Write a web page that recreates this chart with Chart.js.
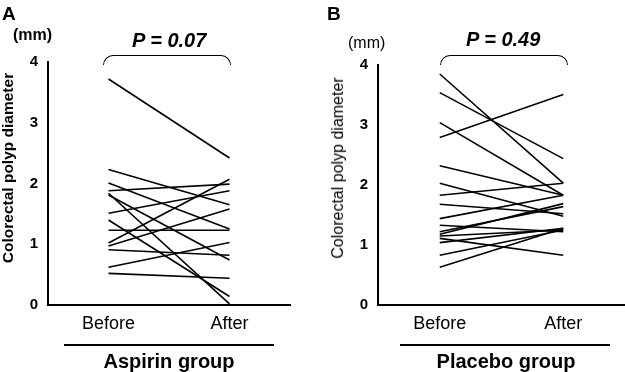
<!DOCTYPE html>
<html>
<head>
<meta charset="utf-8">
<script src="https://cdn.jsdelivr.net/npm/chart.js@4.4.1/dist/chart.umd.min.js"></script>
<style>
  body { margin: 0; background: #fff; font-family: "Liberation Sans", Arial, sans-serif; }
  #wrap { position: relative; width: 625px; height: 372px; overflow: hidden; }
  .box { position: absolute; top: 0; }
  .txt { position: absolute; color: #000; white-space: nowrap; line-height: 1; }
  .rule { position: absolute; height: 0; border-top: 2px solid #000; }
  .brace { position: absolute; height: 9px; border: 1.5px solid #000; border-bottom: none; border-radius: 10px 10px 0 0; }
  .ytitle { position: absolute; transform: translate(-50%, -50%) rotate(-90deg); white-space: nowrap; line-height: 1; }
</style>
</head>
<body>
<div id="wrap">
  <div class="box" style="left:0;width:312px;height:372px"><canvas id="chartA" width="312" height="372"></canvas></div>
  <div class="box" style="left:325px;width:300px;height:372px"><canvas id="chartB" width="300" height="372"></canvas></div>

  <div class="txt" style="left:2px;top:4px;font-size:19px;font-weight:bold">A</div>
  <div class="txt" style="left:13px;top:27px;font-size:16px;font-weight:bold">(mm)</div>
  <div class="ytitle" style="left:8px;top:168px;font-size:15.5px;font-weight:bold">Colorectal polyp diameter</div>
  <div class="txt" style="left:132px;top:30px;font-size:20px;font-weight:bold;font-style:italic">P = 0.07</div>
  <div class="brace" style="left:103px;top:55px;width:126px"></div>
  <div class="rule" style="left:64px;top:344px;width:210px"></div>
  <div class="txt" style="left:0;width:338px;top:351px;text-align:center;font-size:20px;font-weight:bold">Aspirin group</div>

  <div class="txt" style="left:327px;top:4px;font-size:19px;font-weight:bold">B</div>
  <div class="txt" style="left:348px;top:35px;font-size:16px">(mm)</div>
  <div class="ytitle" style="left:338px;top:168px;font-size:16px">Colorectal polyp diameter</div>
  <div class="txt" style="left:466px;top:29px;font-size:20px;font-weight:bold;font-style:italic">P = 0.49</div>
  <div class="brace" style="left:440px;top:55px;width:126px"></div>
  <div class="rule" style="left:400px;top:344px;width:210px"></div>
  <div class="txt" style="left:336px;width:340px;top:351px;text-align:center;font-size:20px;font-weight:bold">Placebo group</div>
</div>
<script>
const categories = ['Before', 'After'];
const yTicks = [0, 1, 2, 3, 4];

// Aspirin group, one line per polyp
const aspirinBefore = [3.72, 2.23, 2.01, 1.88, 1.84, 1.81, 1.51, 1.40, 1.23, 1.02, 0.97, 0.91, 0.62, 0.52];
const aspirinAfter  = [2.42, 1.65, 1.25, 1.99, 0.02, 0.74, 1.88, 0.14, 1.23, 2.07, 1.58, 0.82, 1.03, 0.44];

// Placebo group
const placeboBefore = [3.85, 3.54, 3.04, 2.79, 2.32, 2.03, 1.83, 1.68, 1.44, 1.33, 1.22, 1.18, 1.15, 1.11, 1.04, 0.83, 0.63];
const placeboAfter  = [2.03, 2.44, 1.83, 3.51, 1.83, 1.48, 2.03, 1.52, 1.83, 1.22, 1.64, 1.69, 1.25, 0.83, 1.28, 1.25, 1.28];

function pairDatasets(before, after) {
    return before.map((b, i) => ({
        data: [b, after[i]],
        borderColor: '#000',
        borderWidth: 1.6,
        pointRadius: 0,
        fill: false,
        tension: 0
    }));
}

function makeOptions(yWidth, padTop, padRight) {
    return {
        responsive: false,
        animation: false,
        devicePixelRatio: 1,
        layout: { padding: { top: padTop, right: padRight, left: 0, bottom: 0 } },
        plugins: { legend: { display: false }, tooltip: { enabled: false } },
        scales: {
            x: {
                offset: true,
                grid: { display: false, drawTicks: false },
                border: { color: '#000', width: 2 },
                ticks: { color: '#000', font: { family: 'Liberation Sans', size: 18 }, padding: 8 },
                afterFit: (s) => { s.height = 67; }
            },
            y: {
                min: 0,
                max: 4,
                afterBuildTicks: (s) => { s.ticks = yTicks.map(v => ({ value: v })); },
                grid: { display: false, drawTicks: false },
                border: { color: '#000', width: 2 },
                ticks: { color: '#000', font: { family: 'Liberation Sans', size: 15, weight: 'bold' }, padding: 10 },
                afterFit: (s) => { s.width = yWidth; }
            }
        }
    };
}

const chartA = new Chart(document.getElementById('chartA').getContext('2d'), {
    type: 'line',
    data: { labels: categories, datasets: pairDatasets(aspirinBefore, aspirinAfter) },
    options: makeOptions(48, 62, 22)
});

const chartB = new Chart(document.getElementById('chartB').getContext('2d'), {
    type: 'line',
    data: { labels: categories, datasets: pairDatasets(placeboBefore, placeboAfter) },
    options: makeOptions(53, 65, 0)
});
</script>
</body>
</html>
